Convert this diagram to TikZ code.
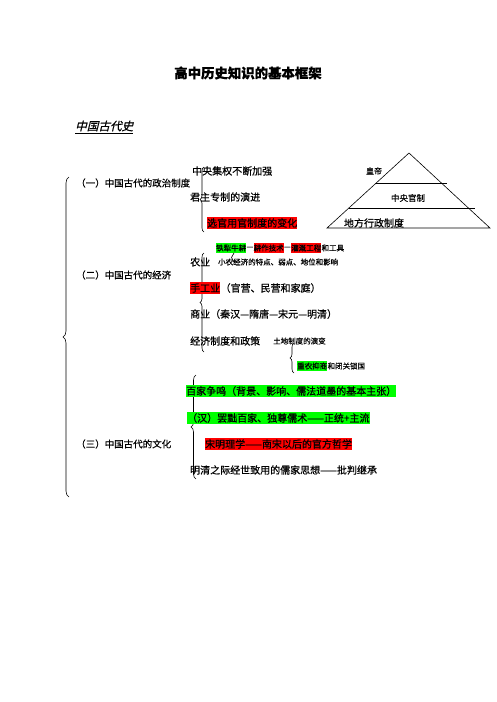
\documentclass[tikz,border=0pt]{standalone}
\usepackage{fontspec}
\setmainfont{Noto Sans CJK SC}[FakeBold=0.6]
\newfontfamily\cjkslant[FakeSlant=0.25, FakeBold=0.6]{Noto Sans CJK SC}
\usetikzlibrary{decorations.pathreplacing}
\definecolor{hlred}{RGB}{255,0,0}
\definecolor{hlgreen}{RGB}{0,255,0}
\tikzset{
  txt/.style={anchor=west, inner sep=0pt, font=\fontsize{10}{12}\selectfont},
  sml/.style={anchor=west, inner sep=0pt, font=\fontsize{7.5}{9}\selectfont},
  lbl/.style={anchor=west, inner sep=0pt, font=\fontsize{9.5}{12}\selectfont},
  redbox/.style={fill=hlred, inner ysep=1.5pt},
  greenbox/.style={fill=hlgreen, inner ysep=1.5pt},
  brc/.style={decorate, decoration={brace, amplitude=#1}, line width=0.6pt},
  brc/.default=4pt
}
\begin{document}
\begin{tikzpicture}[x=1pt,y=-1pt]
\useasboundingbox (0,0) rectangle (496,702);
\def\XB{190};
% title and section
\node[font=\fontsize{13.4}{16}\selectfont\bfseries, inner sep=0pt] (title) at (248,73) {高中历史知识的基本框架};
\node[anchor=west, inner sep=0pt, font=\fontsize{11.6}{14}\cjkslant] (sec) at (75,127) {\underline{中国古代史}};
% outer brace
\coordinate (bigtop) at (69,177); \coordinate (bigbot) at (69,497);
\draw[brc=6pt] (bigbot)--(bigtop);
\node[lbl] (pol) at (76,183) {（一）中国古代的政治制度};
\node[lbl] (eco) at (76,275) {（二）中国古代的经济};
\node[lbl] (cul) at (76,444) {（三）中国古代的文化};
% politics
\coordinate (ptop) at (204,167); \coordinate (pbot) at (204,232); \draw[brc] (pbot)--(ptop);
\node[txt] (p1) at (192,171) {中央集权不断加强};
\node[txt] (p2) at (\XB,197) {君主专制的演进};
\node[txt, redbox] (p3) at (207,223) {选官用官制度的变化};
% pyramid
\coordinate (apex) at (409,153); \coordinate (bl) at (327,228); \coordinate (br) at (490,228);
\draw[line width=0.6pt] (bl)--(apex)--(br)--cycle;
\draw[line width=0.6pt] (376,183)--(447,183); \draw[line width=0.6pt] (349,208)--(475,208);
\node[font=\fontsize{8}{10}\selectfont, inner sep=0pt] (t1) at (374,171) {皇帝};
\node[font=\fontsize{8.5}{10}\selectfont, inner sep=0pt] (t2) at (408,198) {中央官制};
\node[font=\fontsize{10}{12}\selectfont, inner sep=0pt] (t3) at (374,223) {地方行政制度};
% economy
\coordinate (etop) at (204,253); \coordinate (ebot) at (204,352); \draw[brc] (ebot)--(etop);
\node[sml, greenbox] (e0a) at (216,248) {铁犁牛耕};
\node[sml] (e0b) at (e0a.east) {—};
\node[sml, redbox] (e0c) at (e0b.east) {耕作技术};
\node[sml] (e0d) at (e0c.east) {—};
\node[sml, redbox] (e0e) at (e0d.east) {灌溉工程};
\node[sml] (e0f) at (e0e.east) {和工具};
\coordinate (ntop) at (234,253); \coordinate (nbot) at (234,262); \draw[brc=2.5pt] (nbot)--(ntop);
\node[txt] (e1) at (\XB,262) {农业};
\node[sml] (e1b) at (218,262) {小农经济的特点、弱点、地位和影响};
\node[txt, redbox] (e2) at (\XB,288) {手工业};
\node[txt] (e2b) at (e2.east) {（官营、民营和家庭）};
\node[txt] (e3) at (\XB,314) {商业（秦汉—隋唐—宋元—明清）};
\node[txt] (e4) at (\XB,341) {经济制度和政策};
\node[sml] (e4b) at (273,341) {土地制度的演变};
\coordinate (stop) at (294,343); \coordinate (sbot) at (294,373); \draw[brc] (sbot)--(stop);
\node[sml, greenbox] (e5) at (297,366) {重农抑商};
\node[sml] (e5b) at (e5.east) {和闭关锁国};
% culture
\coordinate (ctop) at (196,375); \coordinate (cbot) at (196,479); \draw[brc=5pt] (cbot)--(ctop);
\node[txt, greenbox] (c1) at (186,391) {百家争鸣（背景、影响、儒法道墨的基本主张）};
\node[txt, greenbox] (c2) at (187,418) {（汉）罢黜百家、独尊儒术——正统+主流};
\node[txt, redbox] (c3) at (205,444) {宋明理学——南宋以后的官方哲学};
\node[txt] (c4) at (\XB,470) {明清之际经世致用的儒家思想——批判继承};
\end{tikzpicture}
\end{document}
